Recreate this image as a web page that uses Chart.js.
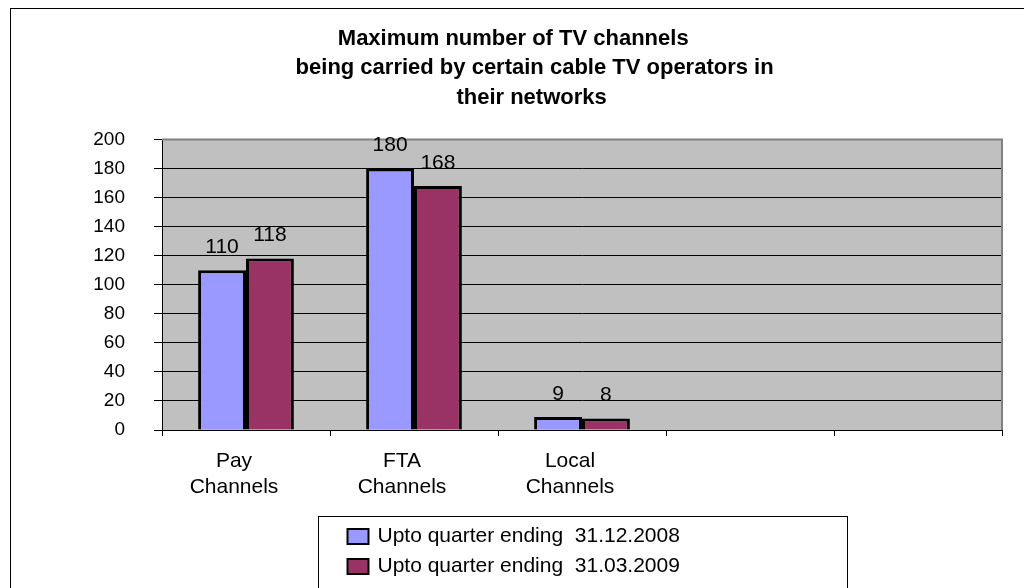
<!DOCTYPE html>
<html>
<head>
<meta charset="utf-8">
<script src="https://cdn.jsdelivr.net/npm/chart.js@4"></script>
<style>
  html, body { margin: 0; padding: 0; background: #fff; overflow: hidden; }
  canvas { display: block; }
</style>
</head>
<body>
<canvas id="tvChart" width="1024" height="588"></canvas>
<script>
const categories = [['Pay', 'Channels'], ['FTA', 'Channels'], ['Local', 'Channels'], '', ''];
const seriesNames = ['Upto quarter ending  31.12.2008', 'Upto quarter ending  31.03.2009'];
const dec2008 = [110, 180, 9, null, null];
const mar2009 = [118, 168, 8, null, null];
const yTicks = [0, 20, 40, 60, 80, 100, 120, 140, 160, 180, 200];
const titleLines = [
    '    Maximum number of TV channels',
    '           being carried by certain cable TV operators in',
    '          their networks'
];

const FONT = '"Liberation Sans", Arial, sans-serif';

// grey plot area plus the outer chart frame
const plotBackground = {
    id: 'plotBackground',
    beforeDraw(chart) {
        const { ctx, chartArea: a } = chart;
        ctx.save();
        ctx.fillStyle = '#ffffff';
        ctx.fillRect(0, 0, chart.width, chart.height);
        ctx.strokeStyle = '#000000';
        ctx.lineWidth = 1;
        ctx.strokeRect(10.5, 8.5, chart.width + 100, chart.height + 100);
        ctx.fillStyle = '#c0c0c0';
        ctx.fillRect(a.left, a.top, a.width, a.height);
        ctx.restore();
    },
    beforeDatasetsDraw(chart) {
        const { ctx, chartArea: a } = chart;
        ctx.save();
        ctx.strokeStyle = '#808080';
        ctx.lineWidth = 2;
        ctx.beginPath();
        ctx.moveTo(a.left, a.top);
        ctx.lineTo(a.right, a.top);
        ctx.lineTo(a.right, a.bottom);
        ctx.stroke();
        ctx.restore();
    }
};

// value labels above each bar
const valueLabels = {
    id: 'valueLabels',
    afterDatasetsDraw(chart) {
        const ctx = chart.ctx;
        ctx.save();
        ctx.font = '21px ' + FONT;
        ctx.fillStyle = '#000000';
        ctx.textAlign = 'center';
        ctx.textBaseline = 'middle';
        chart.data.datasets.forEach((ds, i) => {
            chart.getDatasetMeta(i).data.forEach((bar, j) => {
                const v = ds.data[j];
                if (v == null) return;
                ctx.fillText(String(v), bar.x, bar.y - 23);
            });
        });
        ctx.restore();
    }
};

// boxed legend stacked in two rows under the axis
const boxedLegend = {
    id: 'boxedLegend',
    afterDraw(chart) {
        const { ctx, chartArea: a } = chart;
        const w = 529;
        const left = Math.round((a.left + a.right) / 2 - w / 2) + 0.5;
        const top = Math.round(a.bottom + 86) + 0.5;
        ctx.save();
        ctx.strokeStyle = '#000000';
        ctx.lineWidth = 1;
        ctx.strokeRect(left, top, w, 200);
        ctx.font = '21px ' + FONT;
        ctx.textAlign = 'left';
        ctx.textBaseline = 'middle';
        chart.data.datasets.forEach((ds, i) => {
            const y = top + 20 + i * 30;
            ctx.fillStyle = ds.backgroundColor;
            ctx.fillRect(left + 29, y - 7.5, 21, 15);
            ctx.strokeStyle = '#000000';
            ctx.lineWidth = 2;
            ctx.strokeRect(left + 29, y - 7.5, 21, 15);
            ctx.fillStyle = '#000000';
            ctx.fillText(ds.label, left + 59, y);
        });
        ctx.restore();
    }
};

new Chart(document.getElementById('tvChart').getContext('2d'), {
    type: 'bar',
    data: {
        labels: categories,
        datasets: [{
            label: seriesNames[0],
            data: dec2008,
            backgroundColor: '#9999ff',
            borderColor: '#000000',
            borderWidth: 3
        }, {
            label: seriesNames[1],
            data: mar2009,
            backgroundColor: '#993366',
            borderColor: '#000000',
            borderWidth: 3
        }]
    },
    options: {
        responsive: false,
        animation: false,
        devicePixelRatio: 1,
        layout: {
            padding: { top: 0, right: 22, bottom: 88, left: 0 }
        },
        categoryPercentage: 0.57,
        barPercentage: 1,
        plugins: {
            legend: { display: false },
            tooltip: { enabled: false },
            title: {
                display: true,
                text: titleLines,
                color: '#000000',
                font: { family: FONT, size: 22, weight: 'bold', lineHeight: 1.34 },
                padding: { top: 24, bottom: 27 }
            }
        },
        scales: {
            x: {
                afterFit(s) { s.height = 70; },
                grid: {
                    drawOnChartArea: false,
                    drawTicks: true,
                    tickLength: 6,
                    color: '#000000'
                },
                border: { color: '#000000', width: 1 },
                ticks: {
                    color: '#000000',
                    font: { family: FONT, size: 21, lineHeight: 1.24 },
                    padding: 12,
                    labelOffset: -12,
                    maxRotation: 0,
                    autoSkip: false
                }
            },
            y: {
                min: 0,
                max: 200,
                afterFit(s) { s.width = 162; },
                afterBuildTicks(s) { s.ticks = yTicks.map(v => ({ value: v })); },
                grid: {
                    color: '#000000',
                    lineWidth: 1,
                    tickLength: 8
                },
                border: { color: '#000000', width: 1 },
                ticks: {
                    color: '#000000',
                    font: { family: FONT, size: 19 },
                    padding: 29
                }
            }
        }
    },
    plugins: [plotBackground, valueLabels, boxedLegend]
});
</script>
</body>
</html>
